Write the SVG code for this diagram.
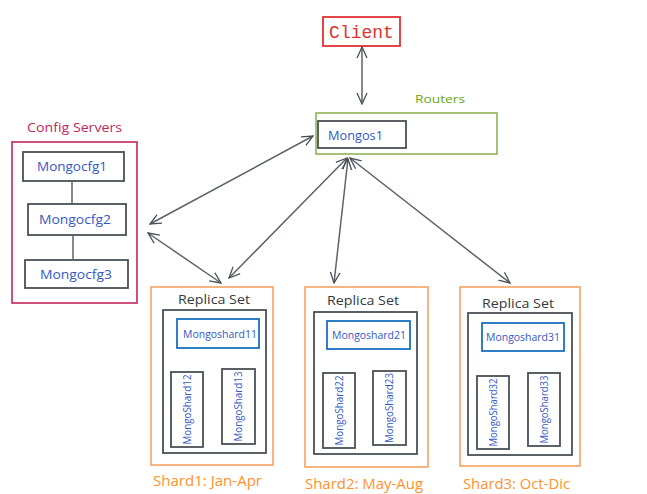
<svg xmlns="http://www.w3.org/2000/svg" width="647" height="494" viewBox="0 0 647 494">
<defs>
<marker id="ah" viewBox="0 0 12 12" refX="11" refY="6" markerWidth="12" markerHeight="12" markerUnits="userSpaceOnUse" orient="auto-start-reverse">
<path d="M0,1 L11,6 L0,11" fill="none" stroke="#495057" stroke-width="1.3"/>
</marker>
</defs>
<style>
.node{fill:#fff;stroke:#495057;stroke-width:1.8}
.blue{fill:#fff;stroke:#1971c2;stroke-width:1.8}
.orange{fill:#fff;stroke:#f4a261;stroke-width:1.6}
.lbl{font-family:"Open Sans","Liberation Sans",sans-serif;font-size:13px;fill:#3358c4}
.small{font-family:"Open Sans","Liberation Sans",sans-serif;font-size:10.5px;fill:#3358c4}
.rs{font-family:"Open Sans","Liberation Sans",sans-serif;font-size:13px;fill:#343a40;text-anchor:middle}
.shard{font-family:"Open Sans","Liberation Sans",sans-serif;font-size:14px;fill:#ff922b}
.conn{fill:none;stroke:#5c636a;stroke-width:1.5}
</style>
<rect width="647" height="494" fill="#fff"/>

<g id="client">
<rect x="323" y="17" width="77" height="29" fill="#fff" stroke="#e03131" stroke-width="1.8"/>
<text x="361.5" y="38" font-family="Liberation Mono, DejaVu Sans Mono, monospace" font-size="18" fill="#e03131" text-anchor="middle">Client</text>
</g>

<g id="routers">
<text x="415" y="103" font-family="Open Sans, Liberation Sans, sans-serif" font-size="11.5" fill="#66a80f" textLength="50" lengthAdjust="spacingAndGlyphs">Routers</text>
<rect x="316" y="113" width="181" height="41" fill="#fff" stroke="#8fb356" stroke-width="1.6"/>
</g>
<g id="mongos1">
<rect class="node" x="318" y="121" width="88" height="27"/>
<text class="lbl" x="328" y="140" textLength="55" lengthAdjust="spacingAndGlyphs">Mongos1</text>
</g>

<g id="config-servers">
<text x="27" y="132" font-family="Open Sans, Liberation Sans, sans-serif" font-size="12" fill="#c2255c" textLength="95" lengthAdjust="spacingAndGlyphs">Config Servers</text>
<rect x="12" y="142" width="125" height="161" fill="#fff" stroke="#c2255c" stroke-width="1.6"/>
</g>
<g id="mongocfg1">
<rect class="node" x="23" y="152" width="101" height="29"/>
<text class="lbl" x="37" y="171" textLength="70" lengthAdjust="spacingAndGlyphs">Mongocfg1</text>
</g>
<g id="mongocfg2">
<rect class="node" x="28" y="204" width="98" height="31"/>
<text class="lbl" x="39" y="224" textLength="72" lengthAdjust="spacingAndGlyphs">Mongocfg2</text>
</g>
<g id="mongocfg3">
<rect class="node" x="25" y="260" width="103" height="28"/>
<text class="lbl" x="40" y="279" textLength="72" lengthAdjust="spacingAndGlyphs">Mongocfg3</text>
</g>

<g id="shard1">
<rect class="orange" x="151" y="287" width="122" height="178"/>
<text class="rs" x="214" y="304" textLength="72" lengthAdjust="spacingAndGlyphs">Replica Set</text>
<rect class="node" x="163" y="310" width="103" height="143"/>
<text class="shard" x="153" y="486" textLength="109" lengthAdjust="spacingAndGlyphs">Shard1: Jan-Apr</text>
</g>
<g id="mongoshard11">
<rect class="blue" x="177" y="319" width="82" height="29"/>
<text class="small" x="183" y="338" textLength="74" lengthAdjust="spacingAndGlyphs">Mongoshard11</text>
</g>
<g id="mongoshard12">
<rect class="node" x="171" y="372" width="32" height="75"/>
<text class="small" transform="translate(191,409.5) rotate(-90)" text-anchor="middle" textLength="70" lengthAdjust="spacingAndGlyphs">MongoShard12</text>
</g>
<g id="mongoshard13">
<rect class="node" x="222" y="369" width="33" height="75"/>
<text class="small" transform="translate(242,406.5) rotate(-90)" text-anchor="middle" textLength="70" lengthAdjust="spacingAndGlyphs">MongoShard13</text>
</g>

<g id="shard2">
<rect class="orange" x="305" y="287" width="123" height="180"/>
<text class="rs" x="363" y="305" textLength="72" lengthAdjust="spacingAndGlyphs">Replica Set</text>
<rect class="node" x="314" y="312" width="103" height="142"/>
<text class="shard" x="305" y="489" textLength="118" lengthAdjust="spacingAndGlyphs">Shard2: May-Aug</text>
</g>
<g id="mongoshard21">
<rect class="blue" x="327" y="321" width="83" height="28"/>
<text class="small" x="332" y="339" textLength="74" lengthAdjust="spacingAndGlyphs">Mongoshard21</text>
</g>
<g id="mongoshard22">
<rect class="node" x="323" y="373" width="32" height="75"/>
<text class="small" transform="translate(343,410.5) rotate(-90)" text-anchor="middle" textLength="70" lengthAdjust="spacingAndGlyphs">MongoShard22</text>
</g>
<g id="mongoshard23">
<rect class="node" x="373" y="371" width="33" height="74"/>
<text class="small" transform="translate(393,408) rotate(-90)" text-anchor="middle" textLength="70" lengthAdjust="spacingAndGlyphs">MongoShard23</text>
</g>

<g id="shard3">
<rect class="orange" x="460" y="287" width="120" height="179"/>
<text class="rs" x="518" y="308" textLength="72" lengthAdjust="spacingAndGlyphs">Replica Set</text>
<rect class="node" x="468" y="313" width="104" height="142"/>
<text class="shard" x="463" y="489" textLength="107" lengthAdjust="spacingAndGlyphs">Shard3: Oct-Dic</text>
</g>
<g id="mongoshard31">
<rect class="blue" x="482" y="323" width="82" height="28"/>
<text class="small" x="486" y="341" textLength="74" lengthAdjust="spacingAndGlyphs">Mongoshard31</text>
</g>
<g id="mongoshard32">
<rect class="node" x="477" y="376" width="32" height="73"/>
<text class="small" transform="translate(497,412.5) rotate(-90)" text-anchor="middle" textLength="68" lengthAdjust="spacingAndGlyphs">MongoShard32</text>
</g>
<g id="mongoshard33">
<rect class="node" x="528" y="373" width="32" height="73"/>
<text class="small" transform="translate(548,409.5) rotate(-90)" text-anchor="middle" textLength="68" lengthAdjust="spacingAndGlyphs">MongoShard33</text>
</g>

<g id="connectors">
<line class="conn" x1="72" y1="181" x2="72" y2="204"/>
<line class="conn" x1="73" y1="235" x2="73" y2="260"/>
<line class="conn" x1="362" y1="47" x2="362" y2="104" marker-start="url(#ah)" marker-end="url(#ah)"/>
<line class="conn" x1="150" y1="224" x2="313" y2="136" marker-start="url(#ah)" marker-end="url(#ah)"/>
<line class="conn" x1="148" y1="233" x2="221" y2="283" marker-start="url(#ah)" marker-end="url(#ah)"/>
<line class="conn" x1="347" y1="158" x2="229" y2="278" marker-start="url(#ah)" marker-end="url(#ah)"/>
<line class="conn" x1="348" y1="159" x2="334" y2="283" marker-start="url(#ah)" marker-end="url(#ah)"/>
<line class="conn" x1="350" y1="158" x2="510" y2="283" marker-start="url(#ah)" marker-end="url(#ah)"/>
</g>
</svg>
